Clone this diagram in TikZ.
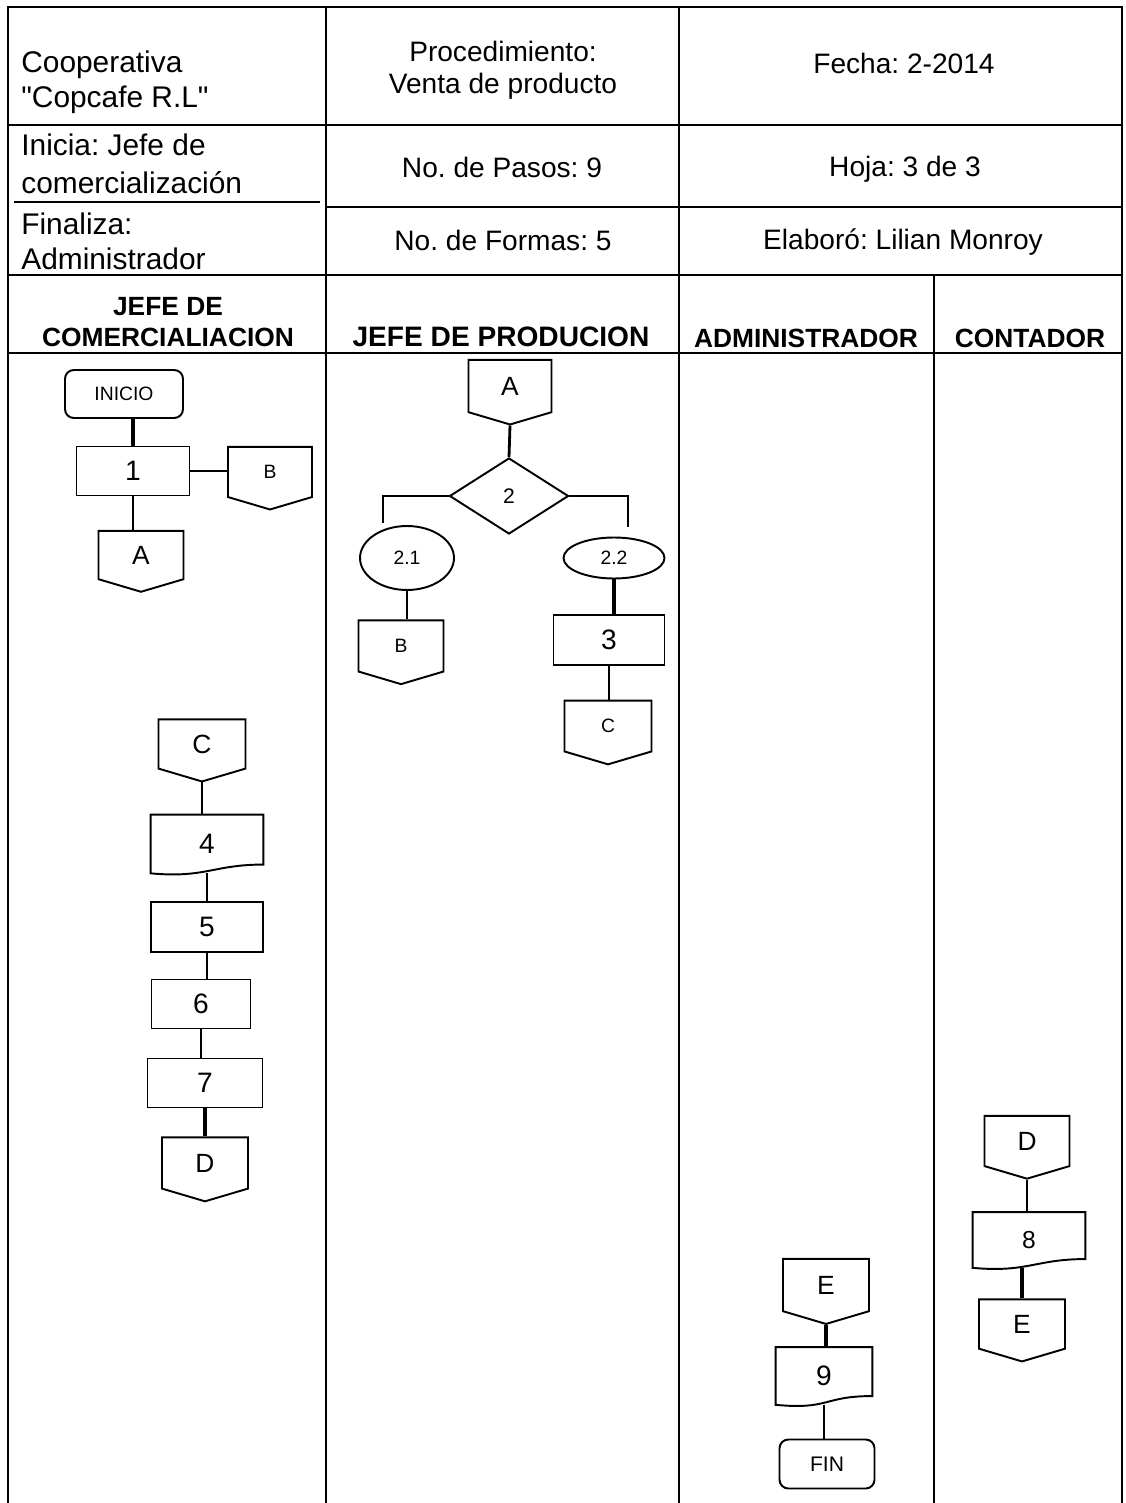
\documentclass[tikz,border=0pt]{standalone}
\usepackage{fontspec}
\setmainfont{Liberation Sans}[Ligatures=TeXOff]
\usetikzlibrary{shapes.geometric}
\usetikzlibrary{shapes.symbols}
\frenchspacing

\begin{document}
\begin{tikzpicture}[x=0.02cm,y=-0.02cm,
  tabla/.style={line width=1pt},
  linea/.style={line width=1.1pt},
  grueso/.style={line width=2.3pt},
  texto/.style={inner sep=0pt, font=\fontsize{16}{18}\selectfont},
  izq/.style={inner sep=0pt, anchor=west, align=left, font=\fontsize{17}{20}\selectfont},
  cabeza/.style={inner sep=0pt, align=center, font=\bfseries\fontsize{15}{18}\selectfont},
  caja/.style={draw, line width=1.1pt, rectangle, inner sep=0pt, font=\fontsize{16}{16}\selectfont},
  term/.style={draw, line width=1.1pt, rectangle, rounded corners=5pt, inner sep=0pt, font=\fontsize{11}{11}\selectfont},
  docu/.style={rectangle, inner sep=0pt, font=\fontsize{16}{16}\selectfont,
    append after command={\pgfextra{\draw[line width=1.1pt]
      (\tikzlastnode.south west) .. controls +(55,5) and +(-50,0) .. ([yshift=5pt]\tikzlastnode.south east)
      -- (\tikzlastnode.north east) -- (\tikzlastnode.north west) -- cycle;}}},
  conec/.style={draw, line width=1.1pt, shape=signal, signal to=south, signal pointer angle=147, inner sep=0pt, font=\fontsize{15}{15}\selectfont},
  chico/.style={font=\fontsize{11}{11}\selectfont},
  tam/.style 2 args={minimum width=#1, minimum height=#2}]
\useasboundingbox (0,0) rectangle (1125,1503);

% tabla
\draw[tabla] (8,1503) -- (8,7) -- (1122,7) -- (1122,1503);
\draw[tabla] (326,7) -- (326,1503);
\draw[tabla] (679,7) -- (679,1503);
\draw[tabla] (934,275) -- (934,1503);
\draw[tabla] (8,125) -- (1122,125);
\draw[tabla] (14,202) -- (320,202);
\draw[tabla] (326,207) -- (1122,207);
\draw[tabla] (8,275) -- (1122,275);
\draw[tabla] (8,353) -- (1122,353);

\node[izq] (coop) at (21,82) {Cooperativa\\"Copcafe R.L"};
\node[texto, align=center, font=\fontsize{16}{18.5}\selectfont] (proc) at (503,70) {Procedimiento:\\Venta de producto};
\node[texto] (fecha) at (904,63) {Fecha: 2-2014};
\node[izq, font=\fontsize{17}{21.5}\selectfont] (inicia) at (21,164) {Inicia: Jefe de\\comercialización};
\node[texto] (pasos) at (502,167) {No. de Pasos: 9};
\node[texto] (hoja) at (905,169) {Hoja: 3 de 3};
\node[izq] (finaliza) at (21,241) {Finaliza:\\Administrador};
\node[texto] (formas) at (503,240) {No. de Formas: 5};
\node[texto] (elaboro) at (903,242) {Elaboró: Lilian Monroy};

\node[cabeza] (h1) at (168,322) {JEFE DE\\COMERCIALIACION};
\node[cabeza, font=\bfseries\fontsize{16}{18}\selectfont] (h2) at (501,337) {JEFE DE PRODUCION};
\node[cabeza] (h3) at (806,338) {ADMINISTRADOR};
\node[cabeza] (h4) at (1030,338) {CONTADOR};

% jefe de comercializacion
\node[term, tam={2.36cm}{0.96cm}] (ini) at (124,394) {INICIO};
\node[caja, tam={2.26cm}{0.98cm}] (p1) at (133,471) {1};
\node[conec, chico, tam={1.68cm}{1.04cm}] (conB1) at (270,472) {B};
\node[conec, tam={1.70cm}{1.02cm}] (conA1) at (141,555) {A};
\node[conec, tam={1.74cm}{1.04cm}] (conC1) at (202,744) {C};
\node[docu, tam={2.24cm}{1.16cm}] (p4) at (207,844) {4};
\node[caja, tam={2.24cm}{1.00cm}] (p5) at (207,927) {5};
\node[caja, tam={1.98cm}{0.98cm}] (p6) at (201,1004) {6};
\node[caja, tam={2.30cm}{0.98cm}] (p7) at (205,1083) {7};
\node[conec, tam={1.72cm}{1.08cm}] (conD1) at (205,1163) {D};

\draw[grueso] (ini.south -| p1.north) -- (p1.north);
\draw[linea] (p1.east) -- (p1.east -| conB1.west);
\draw[linea] (p1.south) -- (p1.south |- conA1.north);
\draw[linea, line width=1.6pt] (conC1.south) -- (conC1.south |- p4.north);
\draw[linea] (p4.south) -- (p4.south |- p5.north);
\draw[linea, line width=1.6pt] (p5.south) -- (p5.south |- p6.north);
\draw[linea, line width=1.6pt] (p6.south) -- (p6.south |- p7.north);
\draw[grueso] (p7.south) -- (p7.south |- conD1.north);

% jefe de produccion
\node[conec, tam={1.66cm}{1.10cm}] (conA2) at (510,386) {A};
\node[draw, line width=1.1pt, diamond, inner sep=0pt, tam={2.38cm}{1.52cm}, font=\fontsize{12}{12}\selectfont] (dec2) at (509,496) {\raisebox{-3pt}{2}};
\node[draw, line width=1.1pt, ellipse, inner sep=0pt, tam={1.88cm}{1.28cm}, chico] (e21) at (407,558) {2.1};
\node[draw, line width=1.1pt, ellipse, inner sep=0pt, tam={2.02cm}{0.82cm}, chico] (e22) at (614,558) {2.2};
\node[conec, chico, tam={1.70cm}{1.06cm}] (conB2) at (401,646) {B};
\node[caja, tam={2.22cm}{1.00cm}] (p3) at (609,640) {3};
\node[conec, chico, tam={1.74cm}{1.06cm}] (conC2) at (608,726) {C};
\coordinate (r21) at (383,523);
\coordinate (r22) at (628,527);

\draw[linea, line width=1.6pt] (conA2.south) -- (dec2.north);
\draw[linea] (dec2.west) -| (r21);
\draw[linea] (dec2.east) -| (r22);
\draw[linea] (e21.south) -- (e21.south |- conB2.north);
\draw[grueso] (e22.south) -- (e22.south |- p3.north);
\draw[linea] (p3.south) -- (p3.south |- conC2.north);

% administrador
\node[conec, tam={1.72cm}{1.10cm}] (conE3) at (826,1285) {E};
\node[docu, tam={1.92cm}{1.14cm}] (p9) at (824,1376) {9};
\node[term, tam={1.90cm}{0.98cm}, font=\fontsize{12}{12}\selectfont] (fin) at (827,1464) {FIN};

\draw[linea, line width=1.8pt] (conE3.south) -- (conE3.south |- p9.north);
\draw[linea, line width=1.6pt] (p9.south) -- (p9.south |- fin.north);

% contador
\node[conec, tam={1.70cm}{1.06cm}] (conD4) at (1027,1141) {D};
\node[docu, tam={2.24cm}{1.10cm}, font=\fontsize{14}{14}\selectfont] (p8) at (1029,1240) {8};
\node[conec, tam={1.72cm}{1.04cm}] (conE4) at (1022,1324) {E};

\draw[linea, line width=1.6pt] (conD4.south) -- (conD4.south |- p8.north);
\draw[grueso] (conE4.north) -- (conE4.north |- p8.south);
\end{tikzpicture}
\end{document}
